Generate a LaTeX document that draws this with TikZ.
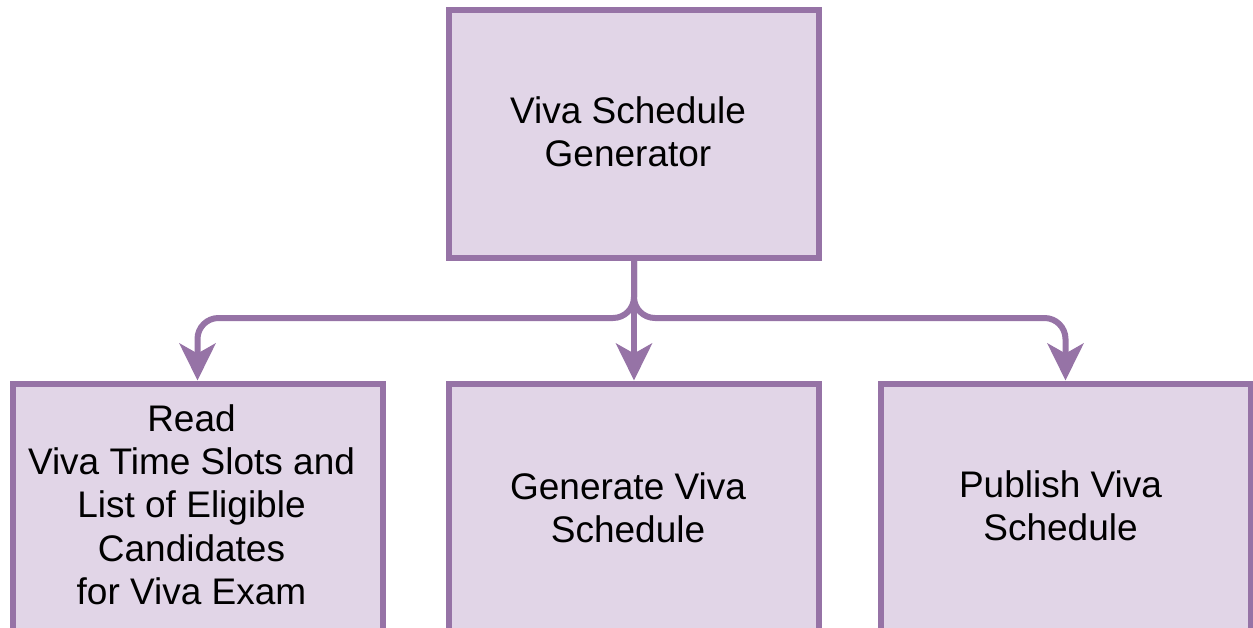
\documentclass[tikz,border=0pt]{standalone}
\usepackage{fontspec}
\setmainfont{Liberation Sans}
\usetikzlibrary{arrows.meta}
\definecolor{boxfill}{HTML}{E1D5E7}
\definecolor{boxline}{HTML}{9673A6}
\begin{document}
\begin{tikzpicture}[x=1pt,y=-1pt,
  box/.style={draw=boxline, fill=boxfill, line width=6pt, minimum width=370pt,
    minimum height=248pt, inner sep=0pt},
  lbl/.style={inner sep=0pt, align=center, font=\fontsize{37}{43.3}\selectfont},
  link/.style={draw=boxline, line width=6pt, rounded corners=21pt,
    -{Stealth[length=37pt,width=36pt,inset=10pt]}}]
\useasboundingbox (0,0) rectangle (1253,627);
\clip (0,0) rectangle (1253,627);
\node[box] (gen) at (634,134) {};
\node[box] (read) at (197.5,507.5) {};
\node[box] (mid) at (634,507.5) {};
\node[box] (pub) at (1065.5,507.5) {};
\node[lbl] (gent) at ([shift={(-6,-2)}]gen.center) {Viva Schedule\\Generator};
\node[lbl] (readt) at ([shift={(-6,-3)}]read.center) {Read\\Viva Time Slots and\\List of Eligible\\Candidates\\for Viva Exam};
\node[lbl] (midt) at ([shift={(-6,0)}]mid.center) {Generate Viva\\Schedule};
\node[lbl] (pubt) at ([shift={(-5,-2)}]pub.center) {Publish Viva\\Schedule};
\coordinate (j) at (634,318);
\draw[link] (gen.south) -- (j) -| (read.north);
\draw[link] (gen.south) -- (j) -| (pub.north);
\draw[link] (gen.south) -- (mid.north);
\end{tikzpicture}
\end{document}
